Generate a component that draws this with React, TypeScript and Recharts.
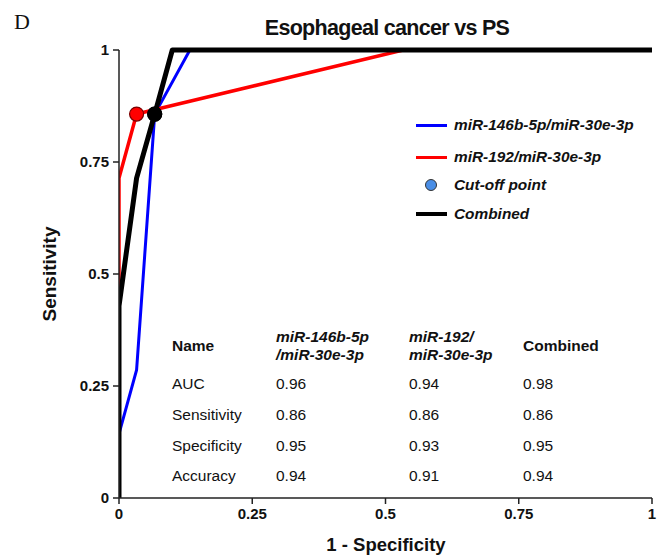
import { ComposedChart, Line, Scatter, XAxis, YAxis } from 'recharts';

// ROC curves: x = 1 - specificity, y = sensitivity
const blueCurve = [
  { x: 0, y: 0 },
  { x: 0, y: 0.143 },
  { x: 0.033, y: 0.286 },
  { x: 0.067, y: 0.857 },
  { x: 0.133, y: 1 },
  { x: 1, y: 1 },
];
const redCurve = [
  { x: 0, y: 0 },
  { x: 0, y: 0.714 },
  { x: 0.033, y: 0.857 },
  { x: 0.533, y: 1 },
  { x: 1, y: 1 },
];
const combinedCurve = [
  { x: 0, y: 0 },
  { x: 0, y: 0.429 },
  { x: 0.033, y: 0.714 },
  { x: 0.067, y: 0.857 },
  { x: 0.1, y: 1 },
  { x: 1, y: 1 },
];
const blueCutoff = [{ x: 0.067, y: 0.857 }];
const redCutoff = [{ x: 0.033, y: 0.857 }];
const combinedCutoff = [{ x: 0.067, y: 0.857 }];

const xTicks = [0, 0.25, 0.5, 0.75, 1];
const yTicks = [0, 0.25, 0.5, 0.75, 1];

const metricNames = ['AUC', 'Sensitivity', 'Specificity', 'Accuracy'];
const blueStats = ['0.96', '0.86', '0.95', '0.94'];
const redStats = ['0.94', '0.86', '0.93', '0.91'];
const combinedStats = ['0.98', '0.86', '0.95', '0.94'];

const legendItems = [
  { label: 'miR-146b-5p/miR-30e-3p', kind: 'line', color: '#0000ff', size: 3 },
  { label: 'miR-192/miR-30e-3p', kind: 'line', color: '#ff0000', size: 3 },
  { label: 'Cut-off point', kind: 'dot', color: '#4a8ee6', size: 12 },
  { label: 'Combined', kind: 'line', color: '#000000', size: 4 },
];

const FONT = '"Liberation Sans", Arial, sans-serif';
const fmt = (v: number) => String(v);

const dot = (fill: string, stroke: string) => (p: any) => (
  <circle cx={p.cx} cy={p.cy} r={7} fill={fill} stroke={stroke} strokeWidth={1.2} />
);

const abs = (x: number, y: number, extra: any = {}) => ({
  position: 'absolute' as const,
  left: x,
  top: y,
  transform: 'translateY(-50%)',
  whiteSpace: 'nowrap' as const,
  fontFamily: FONT,
  color: '#111',
  ...extra,
});

export default function App() {
  const colX = [172, 276, 409, 523];
  const rowY = [384, 415, 446, 476];
  const cell = 15.5;
  return (
    <div style={{ position: 'absolute', left: 0, top: 0, width: 668, height: 560, background: '#fff' }}>
      <ComposedChart width={668} height={560} margin={{ top: 50, right: 16, bottom: 0, left: 0 }}>
        <XAxis
          type="number"
          dataKey="x"
          domain={[0, 1]}
          ticks={xTicks}
          tickFormatter={fmt}
          height={62}
          stroke="#222"
          strokeWidth={1.5}
          tickSize={6}
          tickMargin={4}
          tick={{ fill: '#111', fontSize: 15, fontWeight: 700, fontFamily: FONT }}
          allowDataOverflow
        />
        <YAxis
          type="number"
          dataKey="y"
          domain={[0, 1]}
          ticks={yTicks}
          tickFormatter={fmt}
          width={119}
          stroke="#222"
          strokeWidth={1.5}
          tickSize={6}
          tickMargin={4}
          tick={{ fill: '#111', fontSize: 15, fontWeight: 700, fontFamily: FONT }}
        />
        <Line data={blueCurve} dataKey="y" type="linear" stroke="#0000ff" strokeWidth={3} dot={false} isAnimationActive={false} />
        <Line data={redCurve} dataKey="y" type="linear" stroke="#ff0000" strokeWidth={3.5} dot={false} isAnimationActive={false} />
        <Scatter data={blueCutoff} dataKey="y" shape={dot('#0000ff', '#000')} isAnimationActive={false} />
        <Scatter data={redCutoff} dataKey="y" shape={dot('#ff0000', '#7a0000')} isAnimationActive={false} />
        <Line data={combinedCurve} dataKey="y" type="linear" stroke="#000" strokeWidth={5} strokeLinejoin="round" dot={false} isAnimationActive={false} />
        <Scatter data={combinedCutoff} dataKey="y" shape={dot('#000', '#000')} isAnimationActive={false} />
      </ComposedChart>

      <div style={abs(14, 22, { fontFamily: '"Liberation Serif", "Times New Roman", serif', fontSize: 22 })}>D</div>
      <div style={abs(387, 28, { transform: 'translate(-50%, -50%)', fontSize: 21.5, fontWeight: 700, letterSpacing: -0.7 })}>
        Esophageal cancer vs PS
      </div>
      <div style={abs(386, 545, { transform: 'translate(-50%, -50%)', fontSize: 18.5, fontWeight: 700 })}>1 - Specificity</div>
      <div style={abs(50, 274, { transform: 'translate(-50%, -50%) rotate(-90deg)', fontSize: 19, fontWeight: 700 })}>
        Sensitivity
      </div>

      {legendItems.map((item, i) => {
        const y = [125, 157, 185, 214][i];
        return (
          <div key={item.label}>
            {item.kind === 'line' ? (
              <div style={{ position: 'absolute', left: 416, top: y - item.size / 2, width: 31, height: item.size, background: item.color }} />
            ) : (
              <div
                style={{
                  position: 'absolute',
                  left: 431 - item.size / 2,
                  top: y - item.size / 2,
                  width: item.size,
                  height: item.size,
                  borderRadius: '50%',
                  background: item.color,
                  border: '1px solid #333',
                  boxSizing: 'border-box',
                }}
              />
            )}
            <div style={abs(454, y, { fontSize: 15.4, fontWeight: 700, fontStyle: 'italic' })}>{item.label}</div>
          </div>
        );
      })}

      <div style={abs(colX[0], 346, { fontSize: cell, fontWeight: 700 })}>Name</div>
      <div style={abs(colX[1], 337, { fontSize: cell, fontWeight: 700, fontStyle: 'italic' })}>miR-146b-5p</div>
      <div style={abs(colX[1], 355, { fontSize: cell, fontWeight: 700, fontStyle: 'italic' })}>/miR-30e-3p</div>
      <div style={abs(colX[2], 337, { fontSize: cell, fontWeight: 700, fontStyle: 'italic' })}>miR-192/</div>
      <div style={abs(colX[2], 355, { fontSize: cell, fontWeight: 700, fontStyle: 'italic' })}>miR-30e-3p</div>
      <div style={abs(colX[3], 346, { fontSize: cell, fontWeight: 700 })}>Combined</div>
      {metricNames.map((name, i) => (
        <div key={name}>
          <div style={abs(colX[0], rowY[i], { fontSize: cell })}>{name}</div>
          <div style={abs(colX[1], rowY[i], { fontSize: cell })}>{blueStats[i]}</div>
          <div style={abs(colX[2], rowY[i], { fontSize: cell })}>{redStats[i]}</div>
          <div style={abs(colX[3], rowY[i], { fontSize: cell })}>{combinedStats[i]}</div>
        </div>
      ))}
    </div>
  );
}
